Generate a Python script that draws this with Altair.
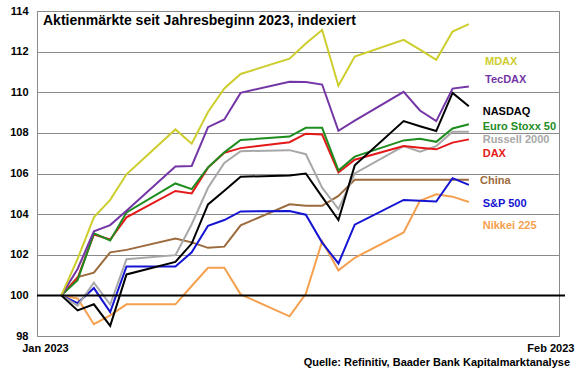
import altair as alt
import pandas as pd

dates = ["2023-01-02", "2023-01-03", "2023-01-04", "2023-01-05", "2023-01-06",
         "2023-01-09", "2023-01-10", "2023-01-11", "2023-01-12", "2023-01-13",
         "2023-01-16", "2023-01-17", "2023-01-18", "2023-01-19", "2023-01-20",
         "2023-01-23", "2023-01-24", "2023-01-25", "2023-01-26", "2023-01-27"]

mdax = [100, 101.8, 103.84, 104.7, 105.96, 108.17, 107.47, 109.03, 110.19, 110.9,
        111.65, 112.4, 113.07, 110.32, 111.76, 112.58, 112.1, 111.6, 112.99, 113.35]
tecdax = [100, 101.3, 103.15, 103.46, 104.17, 106.34, 106.37, 108.28, 108.66, 109.97,
          110.52, 110.5, 110.38, 108.1, 108.6, 110.02, 109.1, 108.58, 110.18, 110.28]
nasdaq = [100, 99.26, 99.56, 98.5, 101.03, 101.65, 102.55, 104.48, 105.15, 105.84,
          105.9, 106.0, 104.85, 103.71, 106.4, 108.58, 108.33, 108.09, 109.97, 109.31]
eurostoxx = [100, 100.75, 103.05, 102.7, 104.08, 105.51, 105.23, 106.3, 107.04, 107.65,
             107.82, 108.25, 108.25, 106.15, 106.83, 107.63, 107.71, 107.56, 108.22, 108.42]
russell = [100, 99.5, 100.63, 99.55, 101.78, 101.98, 103.5, 105.3, 106.52, 107.1,
           107.15, 106.95, 105.3, 104.25, 106.0, 107.35, 107.07, 107.35, 108.05, 108.05]
dax = [100, 100.85, 103.0, 102.75, 103.84, 105.14, 105.02, 106.29, 107.02, 107.25,
       107.54, 107.96, 107.92, 106.05, 106.68, 107.35, 107.27, 107.19, 107.52, 107.68]
china = [100, 100.9, 101.12, 102.12, 102.24, 102.8, 102.61, 102.34, 102.4, 103.45,
         104.48, 104.41, 104.41, 104.9, 105.69, 105.69, 105.69, 105.69, 105.69, 105.69]
sp500 = [100, 99.62, 100.36, 99.18, 101.42, 101.42, 102.12, 103.43, 103.71, 104.13,
         104.15, 103.97, 102.6, 101.57, 103.48, 104.7, 104.66, 104.62, 105.77, 105.44]
nikkei = [100, 99.85, 98.58, 99.02, 99.56, 99.56, 100.46, 101.36, 101.36, 100.05,
          98.97, 100.08, 102.66, 101.23, 101.85, 103.1, 104.66, 104.98, 104.86, 104.6]

series_names = ["Nikkei 225", "China", "S&P 500", "Russell 2000", "DAX",
                "Euro Stoxx 50", "NASDAQ", "TecDAX", "MDAX"]
series_values = [nikkei, china, sp500, russell, dax, eurostoxx, nasdaq, tecdax, mdax]
series_colors = ["#F5A04E", "#9C6A3C", "#1414D2", "#A8A8A8", "#E41818",
                 "#1E8C1E", "#000000", "#7436A6", "#CDCD2E"]

# right-hand labels (name, level on the index scale)
label_names = ["MDAX", "TecDAX", "NASDAQ", "Euro Stoxx 50", "Russell 2000",
               "DAX", "China", "S&P 500", "Nikkei 225"]
label_levels = [111.47, 110.62, 109.02, 108.28, 107.63, 106.95, 105.64, 104.5, 103.4]
label_days = [26.99, 26.99, 26.85, 26.85, 26.85, 26.85, 26.69, 26.85, 26.85]

title_text = "Aktienmärkte seit Jahresbeginn 2023, indexiert"
source_text = "Quelle: Refinitiv, Baader Bank Kapitalmarktanalyse"

y_ticks = [98, 100, 102, 104, 106, 108, 110, 112, 114]
x_ticks = [0, 31]

FONT = "Liberation Sans"

day0 = pd.Timestamp("2023-01-01")
days = [(pd.Timestamp(d) - day0).days for d in dates]

rows = []
for name, vals in zip(series_names, series_values):
    for d, v in zip(days, vals):
        rows.append({"series": name, "day": d, "value": v})
df = pd.DataFrame(rows)

color_scale = alt.Scale(domain=series_names, range=series_colors)
x_scale = alt.Scale(domain=[-0.49, 31.53], nice=False, zero=False)
y_scale = alt.Scale(domain=[98, 114], nice=False, zero=False)

lines = alt.Chart(df).mark_line(strokeWidth=2).encode(
    x=alt.X("day:Q", scale=x_scale,
            axis=alt.Axis(values=x_ticks, title=None, grid=False, domain=False,
                          ticks=False, labelPadding=6, labelFont=FONT,
                          labelFontSize=11, labelFontWeight="bold", labelColor="#000",
                          labelExpr="datum.value == 0 ? 'Jan 2023' : 'Feb 2023'")),
    y=alt.Y("value:Q", scale=y_scale,
            axis=alt.Axis(values=y_ticks, title=None, grid=True, gridColor="#8a8a8a",
                          gridWidth=1, domain=False, ticks=False, labelPadding=9,
                          labelFont=FONT, labelFontSize=11, labelFontWeight="bold",
                          labelColor="#000")),
    color=alt.Color("series:N", scale=color_scale, legend=None),
    order=alt.Order("day:Q"),
)

base_line = alt.Chart(pd.DataFrame({"y": [100]})).mark_rule(
    color="black", strokeWidth=2
).encode(y=alt.Y("y:Q", scale=y_scale), x=alt.value(0), x2=alt.value(528))

labels_df = pd.DataFrame({"series": label_names, "lx": label_days, "ly": label_levels})
labels = alt.Chart(labels_df).mark_text(
    align="left", baseline="middle", font=FONT, fontSize=11, fontWeight="bold"
).encode(
    x=alt.X("lx:Q", scale=x_scale),
    y=alt.Y("ly:Q", scale=y_scale),
    text="series:N",
    color=alt.Color("series:N", scale=color_scale, legend=None),
)

title = alt.Chart(pd.DataFrame({"t": [title_text]})).mark_text(
    align="left", baseline="middle", font=FONT, fontSize=14, fontWeight="bold",
    color="#000"
).encode(x=alt.value(6), y=alt.value(10), text="t:N")

source = alt.Chart(pd.DataFrame({"t": [source_text]})).mark_text(
    align="right", baseline="middle", font=FONT, fontSize=11, fontWeight="bold",
    color="#000"
).encode(x=alt.value(533), y=alt.value(352), text="t:N")

chart = alt.layer(lines, base_line, labels, title, source).properties(
    width=522, height=325,
    autosize=alt.AutoSizeParams(type="none"),
    padding={"left": 37, "top": 11, "right": 21, "bottom": 39},
    background="white",
).configure_view(stroke="#8a8a8a", strokeWidth=1)

chart.save("out.html", embed_options={"renderer": "svg", "actions": False})
